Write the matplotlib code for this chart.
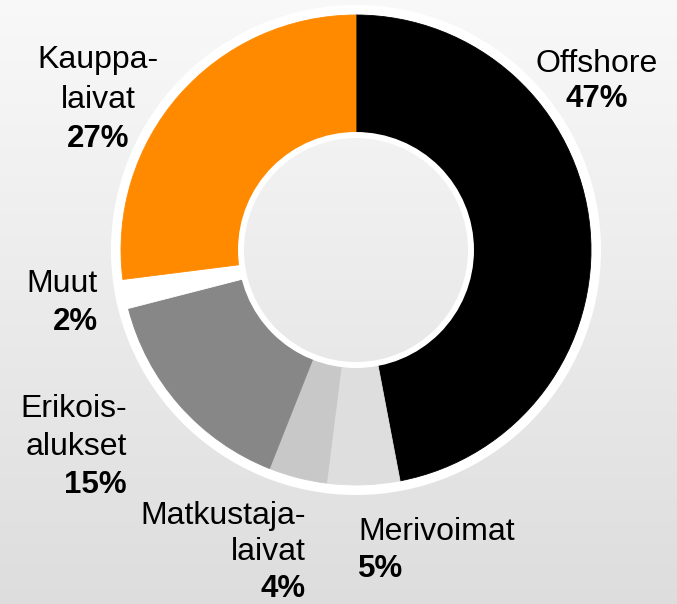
import numpy as np
import matplotlib
matplotlib.use("Agg")
import matplotlib.pyplot as plt
from matplotlib.patches import Wedge, Circle

# Data
categories = ["Offshore", "Merivoimat", "Matkustajalaivat", "Erikoisalukset", "Muut", "Kauppalaivat"]
shares = [47, 5, 4, 15, 2, 27]
colors = ["#000000", "#dedede", "#c8c8c8", "#878787", "#ffffff", "#ff8a00"]
label_lines = [["Offshore"], ["Merivoimat"], ["Matkustaja-", "laivat"],
               ["Erikois-", "alukset"], ["Muut"], ["Kauppa-", "laivat"]]
pct_labels = ["47%", "5%", "4%", "15%", "2%", "27%"]

W, H = 677, 604
fig = plt.figure(figsize=(W / 100, H / 100), dpi=100)
ax = fig.add_axes([0, 0, 1, 1])

# background vertical gradient
grad = np.linspace(0, 1, 256).reshape(-1, 1)
top, bot = 0.975, 0.868
img = top + (bot - top) * grad
ax.imshow(np.dstack([img, img, img]), extent=(0, W, 0, H), aspect="auto",
          origin="upper", zorder=0)

cx, cy = 356, H - 250
R = 235
r_in = 114

# outer white ring
ax.add_patch(Wedge((cx, cy), R + 10, 0, 360, width=12, facecolor="white",
                   edgecolor="none", zorder=1))

wedges, _ = ax.pie(shares, colors=colors, startangle=90, counterclock=False,
                   center=(cx, cy), radius=R,
                   wedgeprops=dict(width=R - r_in, linewidth=0.6))
for w, c in zip(wedges, colors):
    w.set_edgecolor(c)
    w.set_zorder(2)

# inner white ring (covers ~112..118 px)
ax.add_patch(Circle((cx, cy), 115, facecolor="none", edgecolor="white",
                    linewidth=4.3, zorder=3))

ax.set_xlim(0, W)
ax.set_ylim(0, H)
ax.set_aspect("auto")
ax.axis("off")

FS = 23
FSB = 22.5
FAM = ["Liberation Sans", "DejaVu Sans"]

# label placement: (x, first baseline y in px, line spacing, ha)
placements = [
    (597, 72, 35, "center"),
    (358, 540, 37, "left"),
    (306, 524, 36.5, "right"),
    (127, 417, 38, "right"),
    (98, 292, 38, "right"),
    (98, 68, 39.5, "center"),
]

for lines, pct, (x, y0, dy, ha) in zip(label_lines, pct_labels, placements):
    for i, ln in enumerate(lines):
        ax.text(x, H - (y0 + i * dy), ln, fontsize=FS, family=FAM,
                ha=ha, va="baseline", color="black", zorder=5)
    ax.text(x, H - (y0 + len(lines) * dy), pct, fontsize=FSB, family=FAM,
            fontweight="bold", ha=ha, va="baseline", color="black", zorder=5)

fig.savefig("out.png", dpi=100)
